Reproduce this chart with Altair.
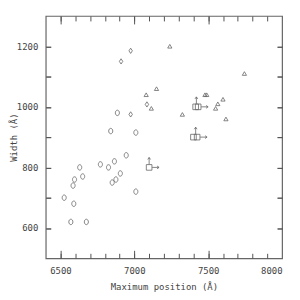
import altair as alt
import pandas as pd

# ---- data ----
circ_x = [6525, 6570, 6590, 6585, 6595, 6630, 6650, 6675, 6770, 6825, 6840, 6850, 6865, 6875, 6885, 6905, 6945, 7010, 7010]
circ_y = [700, 620, 680, 740, 760, 800, 770, 620, 810, 800, 920, 750, 820, 760, 980, 780, 840, 915, 720]

diam_x = [6910, 6975, 6975, 7085]
diam_y = [1150, 1185, 975, 1008]

tri_x = [7080, 7115, 7150, 7240, 7325, 7478, 7490, 7550, 7565, 7600, 7620, 7745]
tri_y = [1040, 995, 1060, 1200, 975, 1040, 1040, 995, 1010, 1025, 960, 1110]

sq_x = [7100, 7415, 7432, 7400, 7425]
sq_y = [800, 1000, 1000, 900, 900]

up_x = [7100, 7420, 7415]
up_y = [800, 1000, 900]

right_x = [7100, 7432, 7425]
right_y = [800, 1000, 900]

x_minor = [6500, 6600, 6700, 6800, 6900, 7000, 7100, 7200, 7300, 7400, 7500, 7600, 7700, 7800, 7900]
x_major = [6500, 7000, 7500]
y_minor = [600, 700, 800, 900, 1000, 1100, 1200]
x_labels = [6500, 7000, 7500, 8000]
y_labels = [600, 800, 1000, 1200]

# ---- styling ----
GRAY = "#666666"
TK = "#555555"
FONT = "DejaVu Sans Mono"
W, H = 238, 244
XD = [6400, 8000]
YD = [500, 1300]

xs = alt.Scale(domain=XD, nice=False, zero=False)
ys = alt.Scale(domain=YD, nice=False, zero=False)

xaxis = alt.Axis(values=x_labels, format="d", ticks=False, domain=False, grid=False,
                 labelFont=FONT, labelFontSize=9, labelColor="#444", labelPadding=8,
                 title="Maximum position (Å)", titleFont=FONT, titleFontSize=9,
                 titleFontWeight="normal", titleColor="#444", titlePadding=7)
yaxis = alt.Axis(values=y_labels, format="d", ticks=False, domain=False, grid=False,
                 labelFont=FONT, labelFontSize=9, labelColor="#444", labelPadding=8,
                 title="Width (Å)", titleFont=FONT, titleFontSize=9,
                 titleFontWeight="normal", titleColor="#444",
                 titleX=-32, titleBaseline="middle")


def tick_axis(orient, vals, L):
    # an axis that draws only ticks, shifted inward so they point into the plot
    return alt.Axis(orient=orient, values=vals, offset=-L, tickSize=L, ticks=True,
                    tickColor=TK, tickWidth=1, labels=False, domain=False, grid=False,
                    title=None, zindex=1)


def pts(xv, yv, shape, size):
    d = pd.DataFrame({"x": xv, "y": yv})
    return alt.Chart(d).mark_point(shape=shape, size=size, color=GRAY, strokeWidth=0.8,
                                   opacity=1).encode(
        x=alt.X("x:Q", scale=xs, axis=xaxis), y=alt.Y("y:Q", scale=ys, axis=yaxis))


ellipse = "M0,-1A0.75,1 0 1,1 0,1A0.75,1 0 1,1 0,-1Z"
diamond = "M0,-1L0.65,0L0,1L-0.65,0Z"
up_arrow = "M0,-1.5L0,-5M-0.7,-4L0,-5L0.7,-4"
right_arrow = "M1.5,0L5,0M4,-0.7L5,0L4,0.7"

main = alt.layer(
    pts(circ_x, circ_y, ellipse, 30),
    pts(diam_x, diam_y, diamond, 28),
    pts(tri_x, tri_y, "triangle-up", 18),
    pts(sq_x, sq_y, "square", 32),
    pts(up_x, up_y, up_arrow, 16),
    pts(right_x, right_y, right_arrow, 16),
)

ghost = pd.DataFrame({"x": circ_x, "y": circ_y})


def tick_layer(xorient, xvals, xL, yorient, yvals, yL):
    return alt.Chart(ghost).mark_point(opacity=0).encode(
        x=alt.X("x:Q", scale=xs, axis=tick_axis(xorient, xvals, xL)),
        y=alt.Y("y:Q", scale=ys, axis=tick_axis(yorient, yvals, yL)),
    )


t1 = tick_layer("bottom", x_minor, 5, "left", y_minor, 5)
t2 = tick_layer("top", x_minor, 5, "right", y_minor, 5)
t3 = tick_layer("bottom", x_major, 8, "left", y_minor, 5)
t4 = tick_layer("top", x_major, 8, "right", y_minor, 5)

chart = alt.layer(main, t1, t2, t3, t4).resolve_axis(x="independent", y="independent").properties(
    width=W, height=H,
    autosize=alt.AutoSizeParams(type="none"),
    padding={"left": 38, "top": 7, "right": 10, "bottom": 41},
).configure_view(stroke=GRAY, strokeWidth=1.2)

chart.save("out.html", embed_options={"renderer": "svg", "actions": False})
